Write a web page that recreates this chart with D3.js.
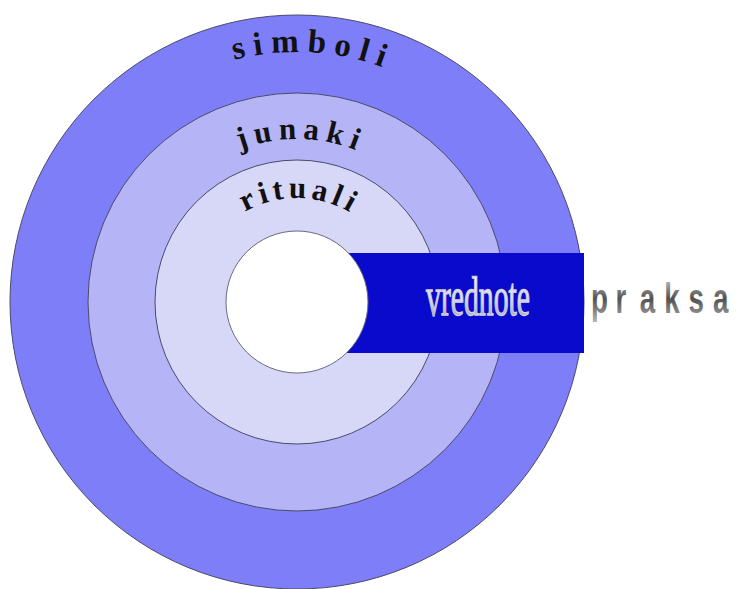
<!DOCTYPE html>
<html>
<head>
<meta charset="utf-8">
<script src="https://cdn.jsdelivr.net/npm/d3@7"></script>
<style>
  body { margin: 0; background: #fff; }
  svg { display: block; }
</style>
</head>
<body>
<svg id="chart" width="737" height="589"></svg>
<script>
// layers of the onion, outside -> inside
const layers = ['simboli', 'junaki', 'rituali', 'vrednote'];
const practice = 'praksa';

const width = 737, height = 589;
const cx = 297, cy = 302;

const svg = d3.select('#chart');

// outer radius of each layer by index (last domain value = centre)
const radius = d3.scaleLinear()
  .domain([0, 1, 2, 3, 4])
  .range([287, 209, 142, 71, 0]);

// radius of the curved label baseline in each ring
const labelRadius = d3.scaleOrdinal()
  .domain(layers.slice(0, 3))
  .range([250, 163, 104]);

const labelSize = d3.scaleOrdinal()
  .domain(layers.slice(0, 3))
  .range([33, 31, 31]);

const labelSpacing = d3.scaleOrdinal()
  .domain(layers.slice(0, 3))
  .range([8, 6.5, 4.5]);

const fill = d3.scaleOrdinal()
  .domain(layers)
  .range(['#7e7ef9', '#b4b4f7', '#d7d7f8', '#ffffff']);

const defs = svg.append('defs');

let g1 = defs.append('linearGradient').attr('id', 'metal').attr('x1', 0).attr('y1', 0).attr('x2', 0).attr('y2', 1);
g1.append('stop').attr('offset', '0%').attr('stop-color', '#ffffff');
g1.append('stop').attr('offset', '55%').attr('stop-color', '#dcdce8');
g1.append('stop').attr('offset', '100%').attr('stop-color', '#8a8a9c');

let g2 = defs.append('linearGradient').attr('id', 'grey').attr('x1', 0).attr('y1', 0).attr('x2', 0).attr('y2', 1);
g2.append('stop').attr('offset', '0%').attr('stop-color', '#d0d0d0');
g2.append('stop').attr('offset', '50%').attr('stop-color', '#505050');
g2.append('stop').attr('offset', '100%').attr('stop-color', '#b5b5b5');

// arcs for the curved labels
layers.slice(0, 3).forEach((d, i) => {
  let r = labelRadius(d);
  defs.append('path')
    .attr('id', 'arc' + i)
    .attr('d', `M ${cx - r} ${cy} A ${r} ${r} 0 0 1 ${cx + r} ${cy}`);
});

// outer rings
svg.selectAll('circle.ring')
  .data(layers.slice(0, 3))
  .enter()
  .append('circle')
  .attr('class', 'ring')
  .attr('cx', cx)
  .attr('cy', cy)
  .attr('r', (d, i) => radius(i))
  .style('fill', d => fill(d))
  .style('stroke', '#4a4a6a')
  .style('stroke-width', 1);

// the "praksa" bar cutting through the layers
svg.append('rect')
  .attr('x', cx)
  .attr('y', 253)
  .attr('width', radius(0))
  .attr('height', 100)
  .style('fill', '#0a0acc');

// core
svg.append('circle')
  .attr('cx', cx)
  .attr('cy', cy)
  .attr('r', radius(3))
  .style('fill', fill(layers[3]))
  .style('stroke', '#6a6a80')
  .style('stroke-width', 1);

// curved ring labels
svg.selectAll('text.ringLabel')
  .data(layers.slice(0, 3))
  .enter()
  .append('text')
  .attr('class', 'ringLabel')
  .style('font-family', '"Liberation Serif", "DejaVu Serif", serif')
  .style('font-weight', 'bold')
  .style('font-size', d => labelSize(d) + 'px')
  .style('letter-spacing', d => labelSpacing(d) + 'px')
  .style('fill', '#111')
  .append('textPath')
  .attr('href', (d, i) => '#arc' + i)
  .attr('startOffset', (d, i) => i == 0 ? '52%' : '50.8%')
  .style('text-anchor', 'middle')
  .text(d => d);

// core value label inside the bar
svg.append('text')
  .attr('transform', 'translate(478,315) scale(0.55,1)')
  .style('font-family', '"Liberation Serif", serif')
  .style('font-size', '54px')
  .style('stroke', '#d0d0e0')
  .style('stroke-width', 1.4)
  .style('text-anchor', 'middle')
  .style('fill', 'url(#metal)')
  .text(layers[3]);

// practice label to the right, letters spread out one by one
const letterX = d3.scalePoint()
  .domain(d3.range(practice.length))
  .range([591, 713]);

svg.selectAll('text.praksa')
  .data(practice.split(''))
  .enter()
  .append('text')
  .attr('class', 'praksa')
  .attr('transform', (d, i) => `translate(${letterX(i)},313) scale(0.66,1)`)
  .style('font-family', '"Liberation Sans", Arial, sans-serif')
  .style('font-weight', 'bold')
  .style('font-size', '42px')
  .style('fill', 'url(#grey)')
  .text(d => d);
</script>
</body>
</html>
